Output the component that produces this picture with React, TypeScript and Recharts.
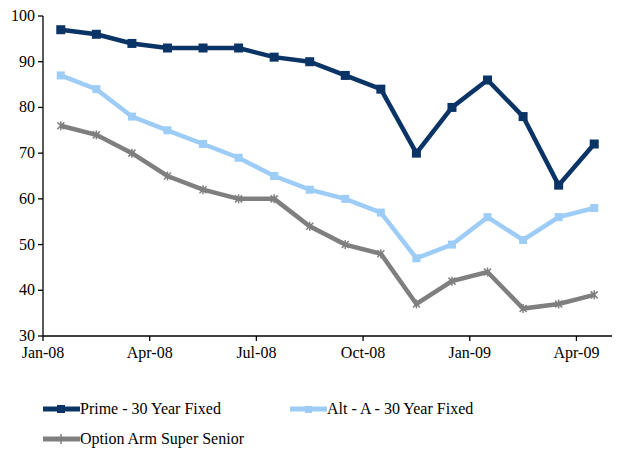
import { LineChart, Line, XAxis, YAxis } from 'recharts'

// month index 0 = Jan-08; points sit in the middle of each month
const months = ['Jan-08', 'Feb-08', 'Mar-08', 'Apr-08', 'May-08', 'Jun-08', 'Jul-08', 'Aug-08',
  'Sep-08', 'Oct-08', 'Nov-08', 'Dec-08', 'Jan-09', 'Feb-09', 'Mar-09', 'Apr-09']
const prime = [97, 96, 94, 93, 93, 93, 91, 90, 87, 84, 70, 80, 86, 78, 63, 72]
const altA = [87, 84, 78, 75, 72, 69, 65, 62, 60, 57, 47, 50, 56, 51, 56, 58]
const optionArm = [76, 74, 70, 65, 62, 60, 60, 54, 50, 48, 37, 42, 44, 36, 37, 39]
const xTicks = [0, 3, 6, 9, 12, 15]
const yTicks = [30, 40, 50, 60, 70, 80, 90, 100]

const NAVY = '#0b3466'
const LIGHT = '#9dcdf7'
const GRAY = '#7f7f7f'
const FONT = "Tinos, 'Liberation Serif', 'Times New Roman', serif"

const data = months.map((m, i) => ({
  x: i + 0.5,
  month: m,
  prime: prime[i],
  altA: altA[i],
  optionArm: optionArm[i],
}))

const squareDot = (size: number, color: string) => (props: any) => (
  <rect key={props.key ?? props.index} x={props.cx - size / 2} y={props.cy - size / 2}
    width={size} height={size} fill={color} />
)

const starDot = (props: any) => {
  const { cx, cy } = props
  const r = 3.5
  return (
    <g key={props.key ?? props.index} stroke={GRAY} strokeWidth={1.5}>
      <line x1={cx - r} y1={cy - r} x2={cx + r} y2={cy + r} />
      <line x1={cx - r} y1={cy + r} x2={cx + r} y2={cy - r} />
      <line x1={cx} y1={cy - r - 1} x2={cx} y2={cy + r + 1} />
    </g>
  )
}

const renderTick = (anchor: 'middle' | 'end', fmt: (v: number) => string) => (props: any) => {
  const { x, y, payload } = props
  return (
    <text x={x} y={y} dy={anchor === 'middle' ? 15 : 5} textAnchor={anchor}
      fontFamily={FONT} fontSize={16} fill="#000">
      {fmt(payload.value)}
    </text>
  )
}

function LegendItem({ color, label, marker }: { color: string, label: string, marker: 'square' | 'small' | 'star' }) {
  return (
    <div style={{ display: 'flex', alignItems: 'center' }}>
      <svg width={37} height={12}>
        <line x1={0} y1={6} x2={37} y2={6} stroke={color} strokeWidth={5} />
        {marker === 'square' && <rect x={14} y={2} width={8} height={8} fill={color} />}
        {marker === 'small' && <rect x={15} y={3} width={7} height={7} fill={color} />}
        {marker === 'star' && <line x1={18} y1={1} x2={18} y2={11} stroke={color} strokeWidth={1.5} />}
      </svg>
      <span style={{ fontFamily: FONT, fontSize: 16, color: '#000' }}>{label}</span>
    </div>
  )
}

export default function App() {
  return (
    <div style={{ position: 'relative', margin: -8, width: 621, height: 457, fontFamily: FONT }}>
      <LineChart width={621} height={457} data={data} margin={{ top: 16, right: 9, left: 0, bottom: 91 }}>
        <XAxis
          dataKey="x"
          type="number"
          domain={[0, 16]}
          ticks={xTicks}
          tick={renderTick('middle', (v) => months[v])}
          stroke="#000"
          strokeWidth={1.3}
          tickSize={5}
          tickMargin={2}
          height={30}
          interval={0}
        />
        <YAxis
          type="number"
          domain={[30, 100]}
          ticks={yTicks}
          tick={renderTick('end', (v) => String(v))}
          stroke="#000"
          strokeWidth={1.3}
          tickSize={5}
          tickMargin={3}
          width={43}
          interval={0}
        />
        <Line dataKey="optionArm" stroke={GRAY} strokeWidth={4.5} dot={starDot} isAnimationActive={false} />
        <Line dataKey="altA" stroke={LIGHT} strokeWidth={4.5} dot={squareDot(8, LIGHT)} isAnimationActive={false} />
        <Line dataKey="prime" stroke={NAVY} strokeWidth={4.5} dot={squareDot(9, NAVY)} isAnimationActive={false} />
      </LineChart>
      <div style={{ position: 'absolute', left: 43, top: 400 }}>
        <LegendItem color={NAVY} label="Prime - 30 Year Fixed" marker="square" />
      </div>
      <div style={{ position: 'absolute', left: 290, top: 400 }}>
        <LegendItem color={LIGHT} label="Alt - A - 30 Year Fixed" marker="small" />
      </div>
      <div style={{ position: 'absolute', left: 43, top: 430 }}>
        <LegendItem color={GRAY} label="Option Arm Super Senior" marker="star" />
      </div>
    </div>
  )
}
